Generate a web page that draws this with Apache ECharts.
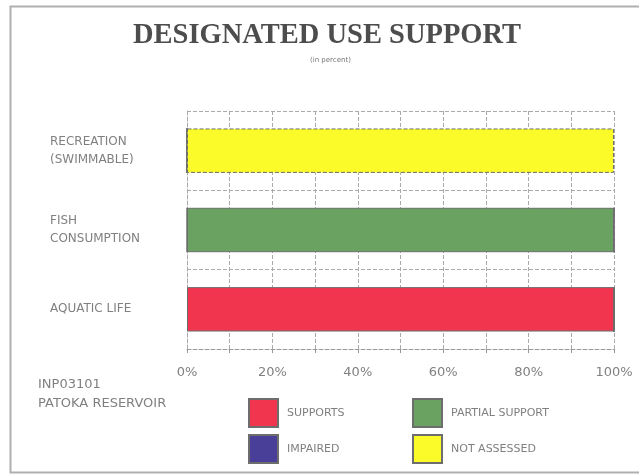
<!DOCTYPE html>
<html><head><meta charset="utf-8">
<script src="https://cdn.jsdelivr.net/npm/echarts@6/dist/echarts.min.js"></script>
<style>html,body{margin:0;padding:0;background:#fff}#c{width:639px;height:474px}</style>
</head><body><div id="c"></div>
<script>
const categories = ['AQUATIC LIFE', 'FISH\nCONSUMPTION', 'RECREATION\n(SWIMMABLE)'];
const supports = [100, 0, 0];
const partialSupport = [0, 100, 0];
const impaired = [0, 0, 0];
const notAssessed = [0, 0, 100];
const xTicks = [0, 20, 40, 60, 80, 100];
const titleText = 'DESIGNATED USE SUPPORT';
const subText = '(in percent)';
const siteLines = ['INP03101', 'PATOKA RESERVOIR'];

const colors = {S:'#f2354f', P:'#6aa262', I:'#4a3f98', N:'#fbfb2a'};
const gray = '#808080';
const font = 'DejaVu Sans';

function bar(name, data, color, dashed) {
  return {name, type:'bar', stack:'t', data, barWidth:'56%',
    itemStyle:{color, borderColor:'#6d6d6d', borderWidth:1, borderType: dashed ? 'dashed':'solid'}};
}
function leg(name, left, top) {
  return {data:[name], left, top, padding:0, itemWidth:29, itemHeight:28, itemGap:0, icon:'rect',
    textStyle:{color:gray, fontSize:11, fontFamily:font, padding:[0,0,0,4]}, selectedMode:false};
}

const chart = echarts.init(document.getElementById('c'));
chart.setOption({
  animation:false,
  title:[
    {text:titleText, left:133, top:21, padding:0,
      textStyle:{fontFamily:'Liberation Serif', fontWeight:'bold', fontSize:28.5, color:'#4d4d4d'}},
    {text:subText, left:310, top:57, padding:0,
      textStyle:{fontFamily:font, fontSize:7, fontWeight:'normal', color:'#777'}}
  ],
  graphic:[
    {type:'rect', shape:{x:10.5, y:6.5, width:640, height:466}, style:{fill:'none', stroke:'#b0b0b0', lineWidth:2}, silent:true},
    {type:'text', left:38, top:375, style:{text:siteLines.join('\n'), fill:gray, font:'13px "DejaVu Sans"', lineHeight:19}}
  ],
  legend:[leg('SUPPORTS',248,398), leg('PARTIAL SUPPORT',412,398), leg('IMPAIRED',248,434), leg('NOT ASSESSED',412,434)],
  grid:{left:187, right:25, top:111, bottom:125},
  xAxis:{type:'value', min:0, max:100, interval:10,
    axisLine:{show:true, lineStyle:{color:'#999', type:'dashed'}},
    axisTick:{show:true, length:4, lineStyle:{color:'#999'}},
    splitLine:{show:true, lineStyle:{color:'#aaa', type:'dashed'}},
    axisLabel:{margin:17, color:gray, fontSize:13, fontFamily:font,
      formatter:v => xTicks.includes(v) ? v + '%' : ''}},
  yAxis:{type:'category', data:categories,
    axisLine:{show:true, lineStyle:{color:'#aaa', type:'dashed'}}, axisTick:{show:false},
    splitLine:{show:true, lineStyle:{color:'#aaa', type:'dashed'}},
    axisLabel:{align:'left', margin:137, color:gray, fontSize:12, fontFamily:font, lineHeight:18}},
  series:[
    bar('SUPPORTS', supports, colors.S),
    bar('PARTIAL SUPPORT', partialSupport, colors.P),
    bar('IMPAIRED', impaired, colors.I),
    bar('NOT ASSESSED', notAssessed, colors.N, true)
  ]
});
</script></body></html>
